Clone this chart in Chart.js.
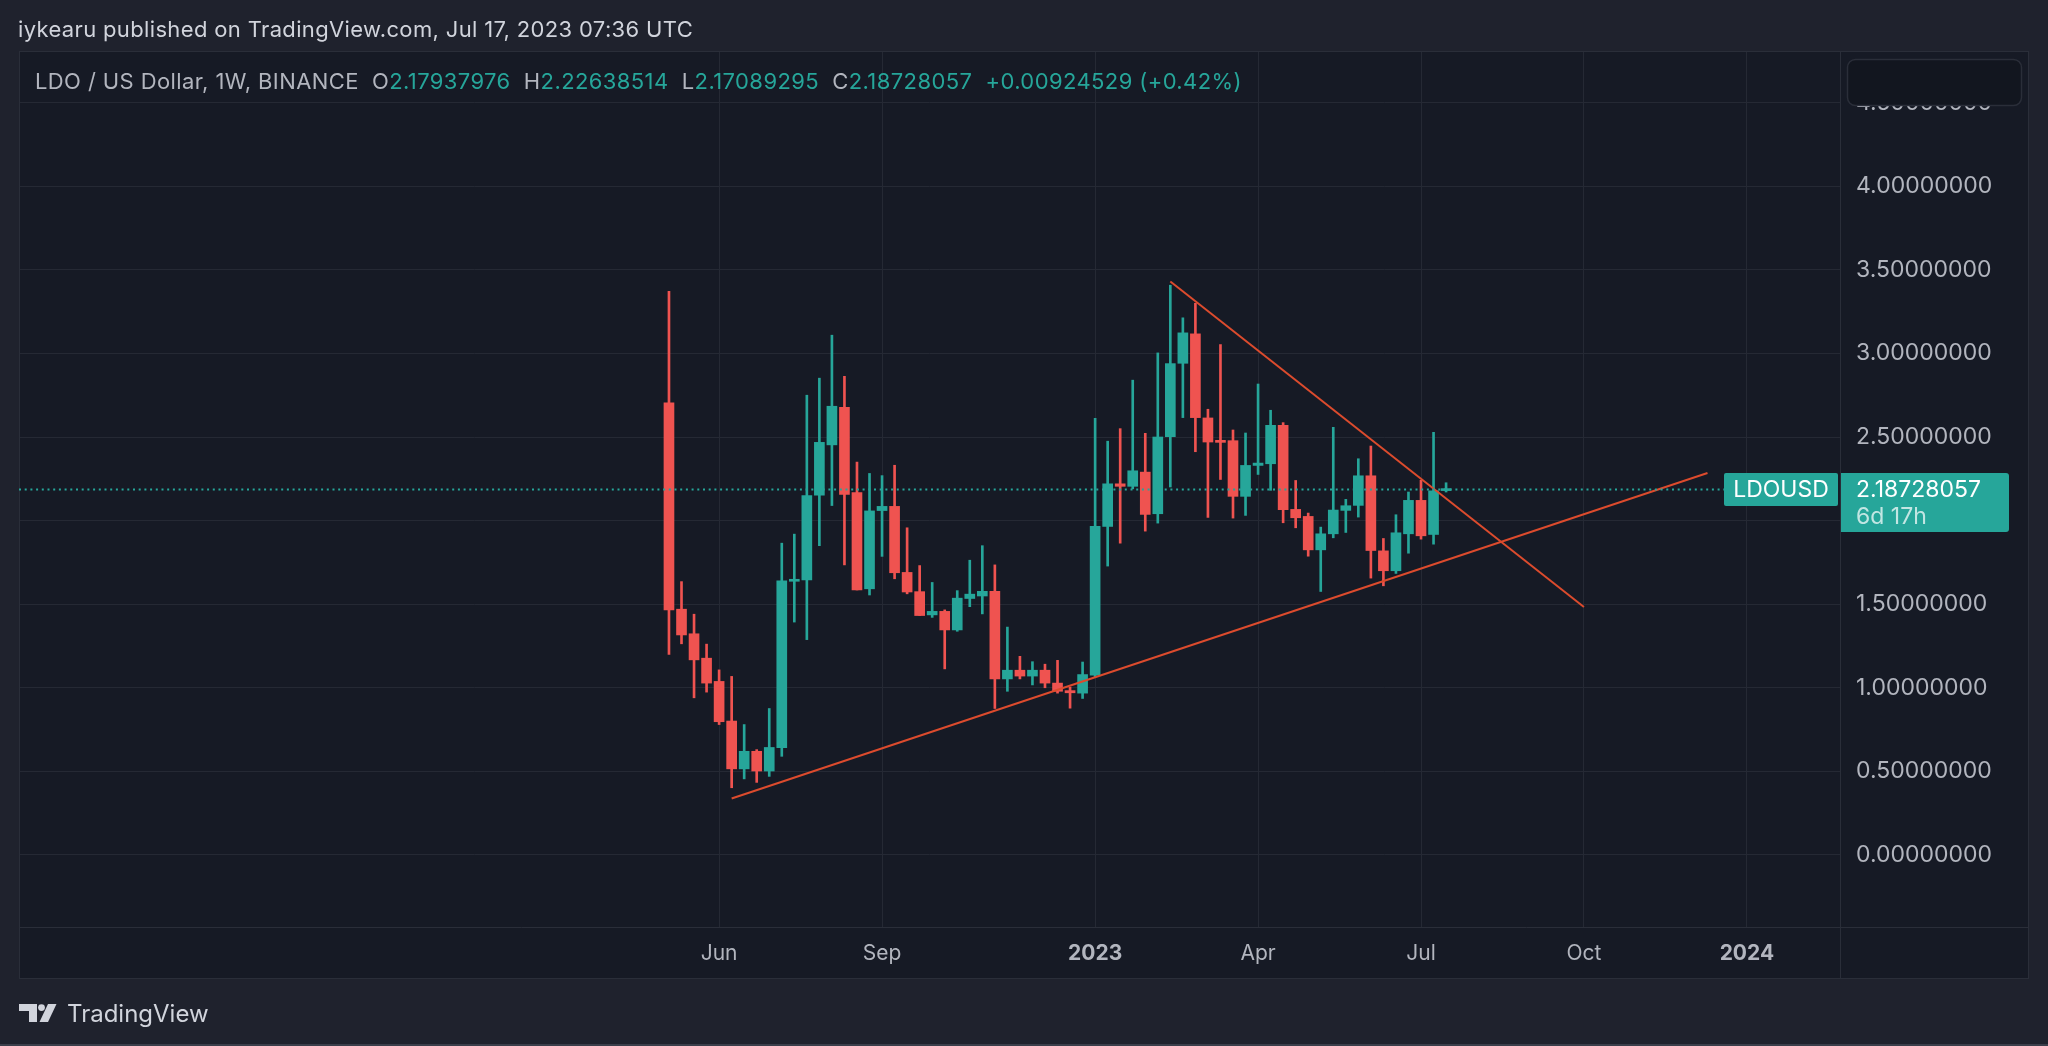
<!DOCTYPE html>
<html>
<head>
<meta charset="utf-8">
<title>LDO / US Dollar, 1W</title>
<script src="https://cdn.jsdelivr.net/npm/chart.js@4.4.0/dist/chart.umd.min.js"></script>
<style>
  html, body { margin: 0; padding: 0; background: #1f222d; }
  body { width: 2048px; height: 1046px; position: relative; overflow: hidden;
         font-family: Inter, Roboto, "Liberation Sans", sans-serif; }
  #chart { position: absolute; left: 0; top: 0; }
  .title { position: absolute; left: 18px; top: 18px; font-size: 22px; line-height: 22px; letter-spacing: 0.35px; color: #d1d4dc; }
  .legend { position: absolute; left: 35px; top: 70px; font-size: 22px; line-height: 22px; letter-spacing: 0.4px; color: #b2b5be; white-space: pre; }
  .legend .v { color: #26a69a; }
  .footer { position: absolute; left: 19px; top: 1002px; height: 22px; display: flex; align-items: center; }
  .footer span { margin-left: 10px; font-size: 24px; color: #d1d4dc; font-weight: 400; }
  .edge { position: absolute; left: 0; top: 1044px; width: 2048px; height: 2px; background: #3a3e4a; }
</style>
</head>
<body>
<canvas id="chart" width="2048" height="1046"></canvas>
<div class="title">iykearu published on TradingView.com, Jul 17, 2023 07:36 UTC</div>
<div class="legend" id="legend"></div>
<div class="footer">
  <svg width="38" height="18" viewBox="0 0 38 18"><path d="M0 0H18V18H10V7H0Z" fill="#d1d4dc"/><circle cx="22.5" cy="3.6" r="3.4" fill="#d1d4dc"/><path d="M29 0H37.5L29 18H20.5Z" fill="#d1d4dc"/></svg>
  <span>TradingView</span>
</div>
<div class="edge"></div>
<script>
// weekly bars, LDO/USD Binance
const weeks = [
  '2022-05-09','2022-05-16','2022-05-23','2022-05-30','2022-06-06','2022-06-13','2022-06-20','2022-06-27',
  '2022-07-04','2022-07-11','2022-07-18','2022-07-25','2022-08-01','2022-08-08','2022-08-15','2022-08-22',
  '2022-08-29','2022-09-05','2022-09-12','2022-09-19','2022-09-26','2022-10-03','2022-10-10','2022-10-17',
  '2022-10-24','2022-10-31','2022-11-07','2022-11-14','2022-11-21','2022-11-28','2022-12-05','2022-12-12',
  '2022-12-19','2022-12-26','2023-01-02','2023-01-09','2023-01-16','2023-01-23','2023-01-30','2023-02-06',
  '2023-02-13','2023-02-20','2023-02-27','2023-03-06','2023-03-13','2023-03-20','2023-03-27','2023-04-03',
  '2023-04-10','2023-04-17','2023-04-24','2023-05-01','2023-05-08','2023-05-15','2023-05-22','2023-05-29',
  '2023-06-05','2023-06-12','2023-06-19','2023-06-26','2023-07-03','2023-07-10','2023-07-17'
]
const openP = [
  2.705, 1.470, 1.323, 1.177, 1.038, 0.801, 0.515, 0.620, 0.502, 0.641, 1.637, 1.645, 2.152, 2.453, 2.677, 2.167,
  1.592, 2.060, 2.085, 1.690, 1.575, 1.436, 1.457, 1.346, 1.534, 1.549, 1.577, 1.053, 1.105, 1.070, 1.105, 1.028,
  0.983, 0.968, 1.075, 1.965, 2.220, 2.205, 2.290, 2.041, 2.502, 2.941, 3.117, 2.614, 2.480, 2.478, 2.145, 2.330,
  2.340, 2.570, 2.067, 2.025, 1.825, 1.921, 2.061, 2.091, 2.268, 1.819, 1.700, 1.921, 2.121, 1.917, 2.17937976
]
const highP = [
  3.372, 1.635, 1.440, 1.261, 1.107, 1.068, 0.780, 0.630, 0.876, 1.865, 1.919, 2.750, 2.852, 3.109, 2.863, 2.350,
  2.282, 2.269, 2.331, 1.957, 1.731, 1.630, 1.466, 1.581, 1.763, 1.850, 1.735, 1.363, 1.188, 1.156, 1.141, 1.164,
  1.004, 1.154, 2.612, 2.475, 2.550, 2.840, 2.522, 3.003, 3.408, 3.213, 3.300, 2.666, 3.053, 2.542, 2.524, 2.817,
  2.660, 2.586, 2.240, 2.045, 1.961, 2.558, 2.127, 2.370, 2.446, 1.893, 2.035, 2.171, 2.241, 2.528, 2.22638514
]
const lowP = [
  1.199, 1.263, 0.940, 0.974, 0.780, 0.402, 0.455, 0.434, 0.470, 0.590, 1.393, 1.288, 1.850, 2.090, 1.735, 1.585,
  1.555, 1.786, 1.652, 1.562, 1.432, 1.421, 1.113, 1.338, 1.485, 1.442, 0.876, 0.979, 1.053, 1.017, 1.000, 0.968,
  0.878, 0.936, 1.064, 1.728, 1.865, 2.190, 1.937, 1.985, 2.201, 2.616, 2.412, 2.019, 2.246, 2.015, 2.031, 2.276,
  2.181, 1.987, 1.957, 1.787, 1.576, 1.897, 1.929, 2.021, 1.656, 1.610, 1.684, 1.805, 1.889, 1.859, 2.17089295
]
const closeP = [
  1.466, 1.316, 1.167, 1.028, 0.797, 0.515, 0.620, 0.502, 0.643, 1.639, 1.649, 2.149, 2.468, 2.684, 2.156, 1.585,
  2.058, 2.085, 1.688, 1.573, 1.432, 1.457, 1.346, 1.536, 1.560, 1.577, 1.053, 1.105, 1.070, 1.105, 1.028, 0.979,
  0.970, 1.079, 1.965, 2.220, 2.205, 2.298, 2.037, 2.500, 2.939, 3.123, 2.616, 2.470, 2.468, 2.145, 2.330, 2.344,
  2.570, 2.065, 2.017, 1.825, 1.921, 2.063, 2.089, 2.268, 1.821, 1.700, 1.927, 2.121, 1.909, 2.17803528, 2.18728057
]

// trend lines drawn on the chart [date, price]
const supportLine = [['2022-06-13', 0.338], ['2023-12-10', 2.285]]
const resistanceLine = [['2023-02-13', 3.430], ['2023-10-02', 1.483]]

const yTickValues = [0, 0.5, 1, 1.5, 2, 2.5, 3, 3.5, 4, 4.5]
const xTickDates = ['2022-06-06', '2022-09-05', '2023-01-02', '2023-04-03', '2023-07-03', '2023-10-02', '2024-01-01']
const xTickLabels = ['Jun', 'Sep', '2023', 'Apr', 'Jul', 'Oct', '2024']

const UP = '#26a69a'
const DOWN = '#ef5350'
const TREND = '#dc4b2d'

const day = (s) => Date.parse(s + 'T00:00:00Z') / 864e5

// legend line
const n = closeP.length - 1
const chg = closeP[n] - closeP[n - 1]
const pct = chg / closeP[n - 1] * 100
const fmt = (v) => v.toFixed(8)
document.getElementById('legend').innerHTML =
  'LDO / US Dollar, 1W, BINANCE  ' +
  'O<span class="v">' + fmt(openP[n]) + '</span>  ' +
  'H<span class="v">' + fmt(highP[n]) + '</span>  ' +
  'L<span class="v">' + fmt(lowP[n]) + '</span>  ' +
  'C<span class="v">' + fmt(closeP[n]) + '</span>  ' +
  '<span class="v">' + (chg >= 0 ? '+' : '') + fmt(chg) + ' (' + (pct >= 0 ? '+' : '') + pct.toFixed(2) + '%)</span>'

const candleColor = weeks.map((w, i) => closeP[i] >= openP[i] ? UP : DOWN)

const bodies = weeks.map((w, i) => ({ x: day(w), y: [openP[i], closeP[i]] }))
const wicks = weeks.map((w, i) => ({ x: day(w), y: [lowP[i], highP[i]] }))

Chart.defaults.font.family = 'Inter, Roboto, "Liberation Sans", sans-serif'

const paneDecor = {
  id: 'paneDecor',
  beforeDraw(chart) {
    const ctx = chart.ctx
    ctx.save()
    ctx.fillStyle = '#161a25'
    ctx.fillRect(19, 51, 2010, 928)
    ctx.restore()
  },
  afterDraw(chart) {
    const ctx = chart.ctx
    const area = chart.chartArea
    const y = chart.scales.y
    const last = closeP[n]
    const py = Math.round(y.getPixelForValue(last)) + 0.5

    ctx.save()
    // pane frame
    ctx.strokeStyle = '#2a2e39'
    ctx.lineWidth = 1
    ctx.strokeRect(19.5, 51.5, 2009, 927)
    ctx.beginPath()
    ctx.moveTo(area.right + 0.5, 51)
    ctx.lineTo(area.right + 0.5, 979)
    ctx.moveTo(19, area.bottom + 0.5)
    ctx.lineTo(2029, area.bottom + 0.5)
    ctx.stroke()

    // last price dotted line
    ctx.strokeStyle = UP
    ctx.lineWidth = 2
    ctx.setLineDash([2, 3.7])
    ctx.beginPath()
    ctx.moveTo(area.left, py)
    ctx.lineTo(1724, py)
    ctx.stroke()
    ctx.setLineDash([])

    // symbol label and price label
    ctx.fillStyle = UP
    ctx.beginPath()
    ctx.roundRect(1724, py - 16.5, 114, 33, 2)
    ctx.fill()
    ctx.beginPath()
    ctx.roundRect(area.right + 1, py - 16.5, 168, 59, [0, 3, 3, 0])
    ctx.fill()

    ctx.font = '23px Inter, Roboto, sans-serif'
    ctx.textBaseline = 'middle'
    ctx.textAlign = 'center'
    ctx.fillStyle = '#ffffff'
    ctx.fillText('LDOUSD', 1781, py + 1)
    ctx.textAlign = 'left'
    ctx.fillText(fmt(last), 1856, py + 1)
    ctx.fillStyle = 'rgba(255,255,255,0.72)'
    ctx.fillText('6d 17h', 1856, py + 28)

    // top-right scale box
    ctx.fillStyle = '#12161f'
    ctx.strokeStyle = '#2a2e39'
    ctx.lineWidth = 1.5
    ctx.beginPath()
    ctx.roundRect(1847.5, 59.5, 174, 46, 8)
    ctx.fill()
    ctx.stroke()
    ctx.restore()
  }
}

new Chart(document.getElementById('chart'), {
  type: 'bar',
  data: {
    datasets: [
      {
        type: 'bar',
        data: bodies,
        backgroundColor: candleColor,
        barThickness: 10,
        minBarLength: 2,
        grouped: false,
        order: 1
      },
      {
        type: 'bar',
        data: wicks,
        backgroundColor: candleColor,
        barThickness: 2,
        grouped: false,
        order: 2
      },
      {
        type: 'line',
        data: supportLine.map(p => ({ x: day(p[0]), y: p[1] })),
        borderColor: TREND,
        borderWidth: 2,
        pointRadius: 0,
        order: 0
      },
      {
        type: 'line',
        data: resistanceLine.map(p => ({ x: day(p[0]), y: p[1] })),
        borderColor: TREND,
        borderWidth: 2,
        pointRadius: 0,
        order: 0
      }
    ]
  },
  options: {
    responsive: false,
    devicePixelRatio: 1,
    animation: false,
    layout: { padding: { left: 19, top: 51, right: 19, bottom: 67 } },
    plugins: { legend: { display: false }, tooltip: { enabled: false } },
    scales: {
      x: {
        type: 'linear',
        offset: false,
        min: day('2021-05-11'),
        max: day('2024-02-22'),
        afterBuildTicks: (s) => { s.ticks = xTickDates.map(d => ({ value: day(d) })) },
        afterFit: (s) => { s.height = 52 },
        border: { display: false },
        grid: { color: '#252934', lineWidth: 1, drawTicks: false, offset: false },
        ticks: {
          autoSkip: false,
          maxRotation: 0,
          padding: 14,
          color: '#b2b5be',
          callback: (v, i) => xTickLabels[i],
          font: (ctx) => ({ size: 21, weight: /^\d{4}$/.test(xTickLabels[ctx.index]) ? 'bold' : 'normal' })
        }
      },
      y: {
        position: 'right',
        min: -0.431,
        max: 4.809,
        afterBuildTicks: (s) => { s.ticks = yTickValues.map(v => ({ value: v })) },
        afterFit: (s) => { s.width = 189 },
        border: { display: false },
        grid: { color: '#252934', lineWidth: 1, drawTicks: false },
        ticks: {
          padding: 16,
          color: '#b2b5be',
          font: { size: 23 },
          callback: (v) => Number(v).toFixed(8)
        }
      }
    }
  },
  plugins: [paneDecor]
})
</script>
</body>
</html>
